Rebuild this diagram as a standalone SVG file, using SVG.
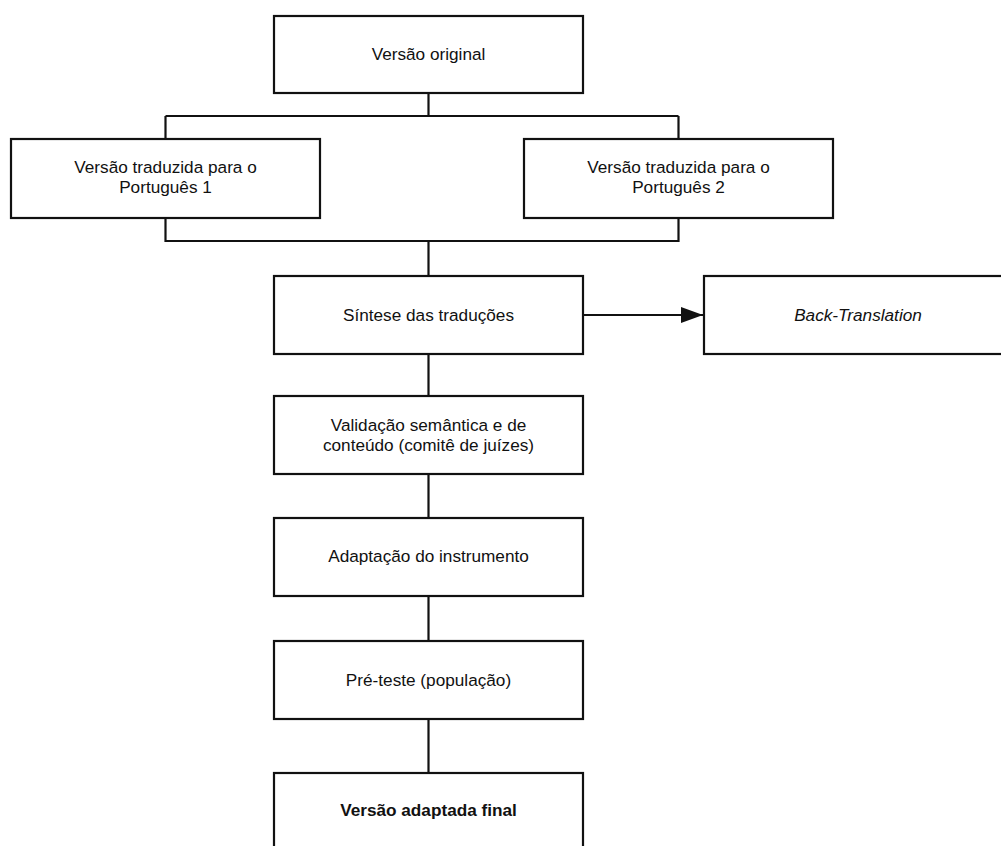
<svg xmlns="http://www.w3.org/2000/svg" width="1001" height="846" viewBox="0 0 1001 846">
<style>
.box{fill:#fff;stroke:#111;stroke-width:2.2}
.t{font-family:"Liberation Sans",Arial,sans-serif;font-size:17.2px;fill:#111;text-anchor:middle}
.b{font-weight:bold}
.i{font-style:italic}
.c{fill:none;stroke:#111;stroke-width:2.2}
</style>
<defs>
<marker id="arr" markerWidth="22" markerHeight="16" refX="22" refY="8" orient="auto" markerUnits="userSpaceOnUse">
<polygon points="0,0 22,8 0,16" fill="#111"/>
</marker>
</defs>
<rect width="1001" height="846" fill="#fff"/>
<g id="connectors">
<path class="c" d="M428.5,93 V116 M165.5,116 H678.5 M165.5,116 V139 M678.5,116 V139"/>
<path class="c" d="M165.5,218 V241 H678.5 V218 M428.5,241 V276"/>
<path class="c" d="M583,315 H703" marker-end="url(#arr)"/>
<path class="c" d="M428.5,354 V396 M428.5,474 V518 M428.5,596 V641 M428.5,719 V773"/>
</g>
<g id="n-original"><rect class="box" x="274" y="16" width="309" height="77"/><text class="t" x="428.5" y="60">Versão original</text></g>
<g id="n-trad1"><rect class="box" x="11" y="139" width="309" height="79"/><text class="t" x="165.5" y="173">Versão traduzida para o</text><text class="t" x="165.5" y="193">Português 1</text></g>
<g id="n-trad2"><rect class="box" x="524" y="139" width="309" height="79"/><text class="t" x="678.5" y="173">Versão traduzida para o</text><text class="t" x="678.5" y="193">Português 2</text></g>
<g id="n-sintese"><rect class="box" x="274" y="276" width="309" height="78"/><text class="t" x="428.5" y="321">Síntese das traduções</text></g>
<g id="n-back"><rect class="box" x="704" y="276" width="320" height="78"/><text class="t i" x="858" y="321">Back-Translation</text></g>
<g id="n-validacao"><rect class="box" x="274" y="396" width="309" height="78"/><text class="t" x="428.5" y="431">Validação semântica e de</text><text class="t" x="428.5" y="451">conteúdo (comitê de juízes)</text></g>
<g id="n-adaptacao"><rect class="box" x="274" y="518" width="309" height="78"/><text class="t" x="428.5" y="562">Adaptação do instrumento</text></g>
<g id="n-preteste"><rect class="box" x="274" y="641" width="309" height="78"/><text class="t" x="428.5" y="686">Pré-teste (população)</text></g>
<g id="n-final"><rect class="box" x="274" y="773" width="309" height="90"/><text class="t b" x="428.5" y="816">Versão adaptada final</text></g>
</svg>
